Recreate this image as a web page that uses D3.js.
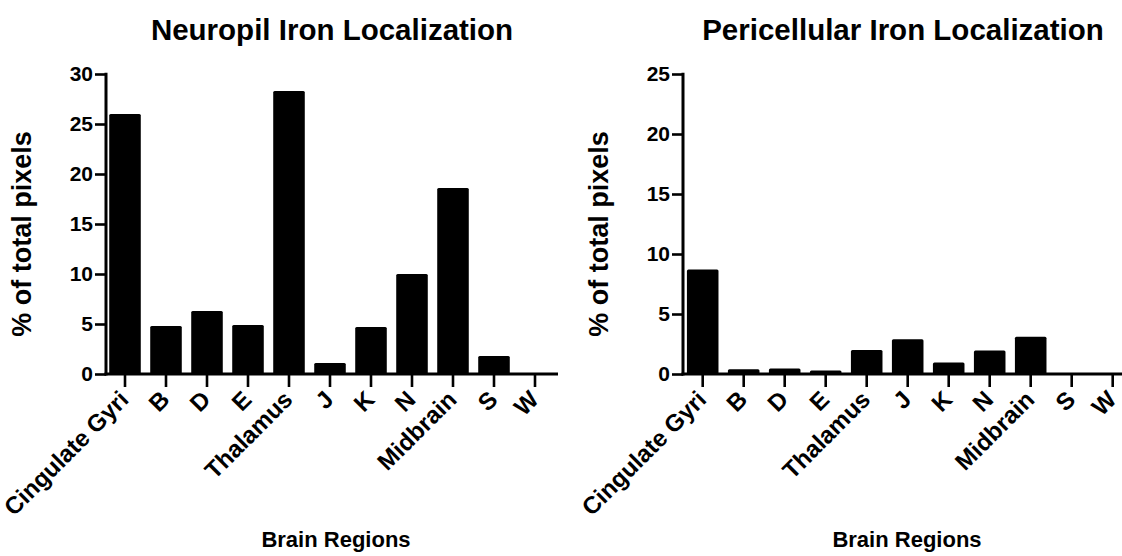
<!DOCTYPE html>
<html>
<head>
<meta charset="utf-8">
<script src="https://cdn.jsdelivr.net/npm/d3@7"></script>
<style>
  html, body { margin: 0; padding: 0; background: #fff; }
  svg { display: block; }
  text { font-family: "Liberation Sans", Arial, Helvetica, sans-serif; font-weight: bold; fill: #000; }
</style>
</head>
<body>
<svg id="chart" width="1122" height="556"></svg>
<script>
// Brain regions on the x axis (shared by both panels)
const categories = ["Cingulate Gyri", "B", "D", "E", "Thalamus", "J", "K", "N", "Midbrain", "S", "W"];

// Percent of total pixels per region
const neuropilValues = [26.0, 4.8, 6.3, 4.9, 28.3, 1.1, 4.7, 10.0, 18.6, 1.8, 0.1];
const pericellularValues = [8.7, 0.4, 0.45, 0.3, 2.0, 2.9, 0.95, 1.95, 3.1, 0.08, 0.08];

// Y axis tick values
const neuropilTicks = [0, 5, 10, 15, 20, 25, 30];
const pericellularTicks = [0, 5, 10, 15, 20, 25];

const panels = [
  {
    title: "Neuropil Iron Localization",
    values: neuropilValues,
    ticks: neuropilTicks,
    yMax: 30,
    axisX: 106,
    band: [104.5, 555.5],
    xAxisEnd: 558,
    centerX: 332
  },
  {
    title: "Pericellular Iron Localization",
    values: pericellularValues,
    ticks: pericellularTicks,
    yMax: 25,
    axisX: 683,
    band: [682.2, 1133.2],
    xAxisEnd: 1136,
    centerX: 903
  }
];

const svg = d3.select("#chart");
const yBottom = 374, yTop = 74;

panels.forEach(p => {
  const g = svg.append("g");

  const x = d3.scaleBand()
    .domain(categories)
    .range(p.band)
    .paddingInner(0.23)
    .paddingOuter(0.115);

  const y = d3.scaleLinear()
    .domain([0, p.yMax])
    .range([yBottom, yTop]);

  // Bars
  g.append("g").selectAll("rect")
    .data(categories.map((c, i) => ({ c, v: p.values[i] })))
    .join("rect")
    .attr("x", d => x(d.c))
    .attr("width", x.bandwidth())
    .attr("y", d => y(d.v))
    .attr("height", d => yBottom - y(d.v))
    .attr("rx", 1.5)
    .attr("fill", "#000");

  // Y axis
  const yAxis = g.append("g")
    .attr("transform", `translate(${p.axisX},0)`)
    .call(d3.axisLeft(y).tickValues(p.ticks).tickSize(11).tickPadding(2).tickFormat(d3.format("d")));
  yAxis.select(".domain").remove();
  yAxis.selectAll(".tick line").attr("stroke", "#000").attr("stroke-width", 2.6);
  yAxis.selectAll(".tick text")
    .style("font-size", "21px")
    .attr("fill", "#000");
  yAxis.append("line")
    .attr("x1", 0).attr("x2", 0)
    .attr("y1", y(p.yMax) - 1.3).attr("y2", yBottom + 1.5)
    .attr("stroke", "#000").attr("stroke-width", 3);

  // X axis
  const xAxis = g.append("g")
    .attr("transform", `translate(0,${yBottom})`)
    .call(d3.axisBottom(x).tickSize(13).tickFormat(""));
  xAxis.select(".domain").remove();
  xAxis.selectAll(".tick line").attr("stroke", "#000").attr("stroke-width", 2.6);
  xAxis.append("line")
    .attr("x1", p.axisX - 1.5).attr("x2", p.xAxisEnd)
    .attr("y1", 0).attr("y2", 0)
    .attr("stroke", "#000").attr("stroke-width", 3);

  // Rotated region labels
  g.append("g").selectAll("text")
    .data(categories)
    .join("text")
    .attr("transform", d => `translate(${x(d) + x.bandwidth() / 2 - 7},${yBottom + 15}) rotate(-45)`)
    .attr("text-anchor", "end")
    .attr("dy", "0.71em")
    .style("font-size", "24px")
    .text(d => d);

  // Panel title
  g.append("text")
    .attr("x", p.centerX)
    .attr("y", 40)
    .attr("text-anchor", "middle")
    .style("font-size", "29.5px")
    .text(p.title);

  // Y axis title
  g.append("text")
    .attr("transform", `translate(${p.axisX - 75},234) rotate(-90)`)
    .attr("text-anchor", "middle")
    .style("font-size", "27px")
    .text("% of total pixels");

  // X axis title
  g.append("text")
    .attr("x", p.centerX + 4)
    .attr("y", 547)
    .attr("text-anchor", "middle")
    .style("font-size", "22px")
    .text("Brain Regions");
});
</script>
</body>
</html>
